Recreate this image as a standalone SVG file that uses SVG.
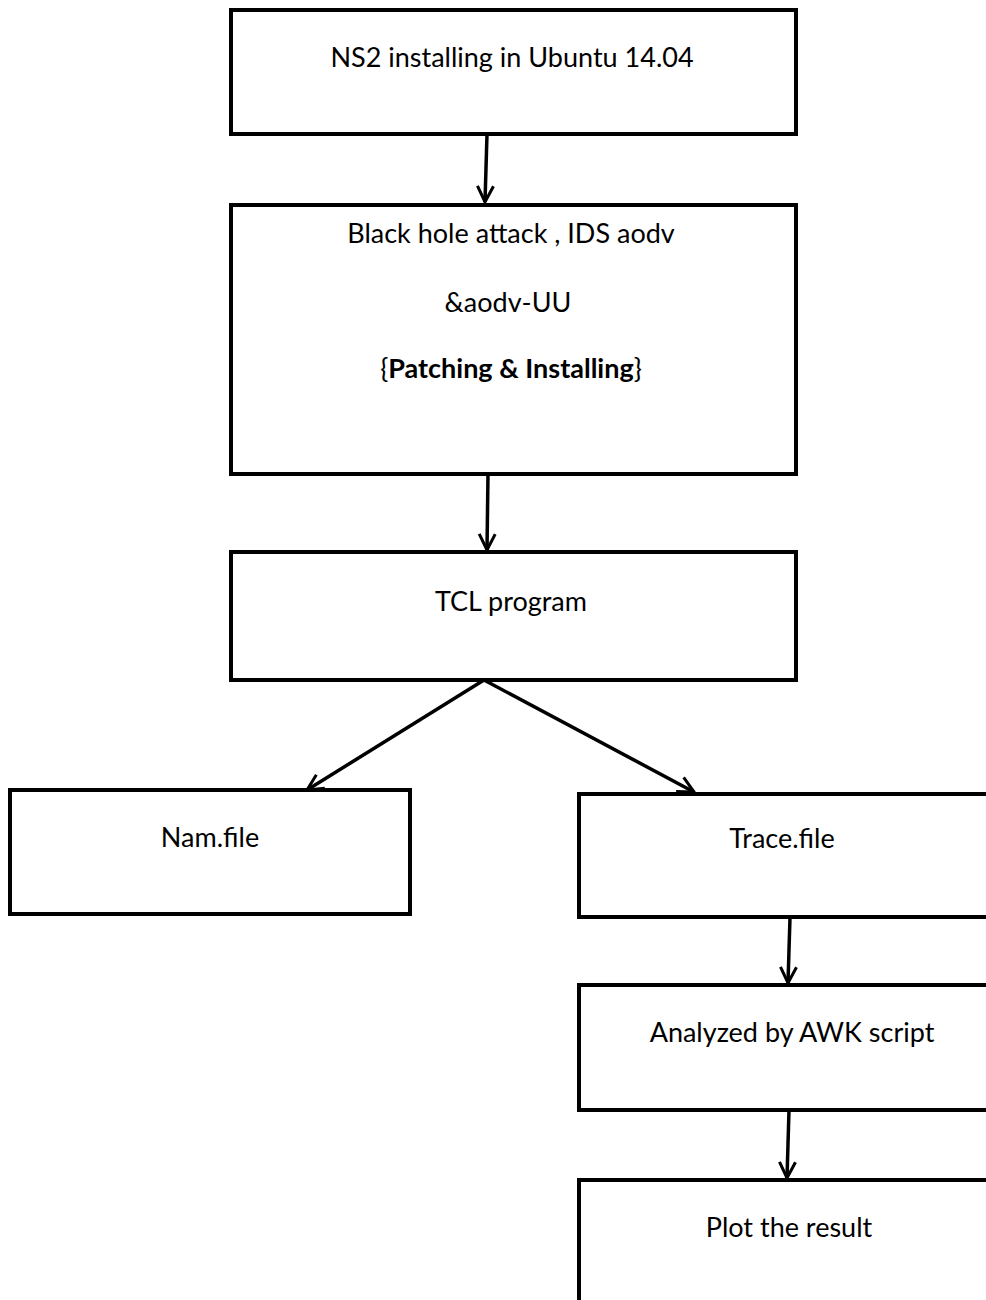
<svg xmlns="http://www.w3.org/2000/svg" width="986" height="1300" viewBox="0 0 986 1300">
  <style>
    .box { fill: #ffffff; stroke: #000000; stroke-width: 4; }
    .lbl { font-family: Lato, "Open Sans", "Liberation Sans", sans-serif; font-size: 27px; fill: #000000; text-anchor: middle; }
    .edge { fill: none; stroke: #000000; stroke-width: 3.5; marker-end: url(#arrow); }
  </style>
  <defs>
    <marker id="arrow" viewBox="0 0 20 20" refX="18" refY="10" markerWidth="20" markerHeight="20" markerUnits="userSpaceOnUse" orient="auto">
      <path d="M2,2 L18,10 L2,18" fill="none" stroke="#000000" stroke-width="3"/>
    </marker>
  </defs>
  <rect width="986" height="1300" fill="#ffffff"/>

  <g id="connectors">
    <line class="edge" x1="487" y1="134" x2="485" y2="202"/>
    <line class="edge" x1="488" y1="474" x2="487" y2="550"/>
    <line class="edge" x1="484" y1="680" x2="307" y2="790"/>
    <line class="edge" x1="484" y1="680" x2="694" y2="792"/>
    <line class="edge" x1="790" y1="917" x2="788" y2="983"/>
    <line class="edge" x1="789" y1="1110" x2="787" y2="1178"/>
  </g>

  <g id="ns2-install">
    <rect class="box" x="231" y="10" width="565" height="124"/>
    <text class="lbl" x="512" y="67">NS2 installing in Ubuntu 14.04</text>
  </g>

  <g id="patching">
    <rect class="box" x="231" y="205" width="565" height="269"/>
    <text class="lbl" x="511" y="243">Black hole attack , IDS aodv</text>
    <text class="lbl" x="508" y="312">&amp;aodv-UU</text>
    <text class="lbl" x="511" y="378">{<tspan font-weight="bold">Patching &amp; Installing</tspan>}</text>
  </g>

  <g id="tcl-program">
    <rect class="box" x="231" y="552" width="565" height="128"/>
    <text class="lbl" x="511" y="611">TCL program</text>
  </g>

  <g id="nam-file">
    <rect class="box" x="10" y="790" width="400" height="124"/>
    <text class="lbl" x="210" y="847">Nam.file</text>
  </g>

  <g id="trace-file">
    <rect class="box" x="579" y="794" width="420" height="123"/>
    <text class="lbl" x="782" y="848">Trace.file</text>
  </g>

  <g id="awk-script">
    <rect class="box" x="579" y="985" width="420" height="125"/>
    <text class="lbl" x="792" y="1042">Analyzed by AWK script</text>
  </g>

  <g id="plot-result">
    <rect class="box" x="579" y="1180" width="420" height="140"/>
    <text class="lbl" x="789" y="1237">Plot the result</text>
  </g>
</svg>
